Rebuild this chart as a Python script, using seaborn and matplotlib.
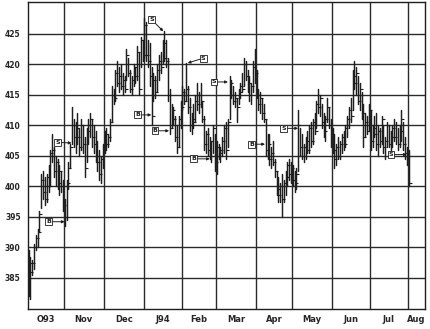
import numpy as np
import pandas as pd
import matplotlib
matplotlib.use("Agg")
import matplotlib.pyplot as plt
import seaborn as sns

# ---------------- data ----------------
month_labels = ["O93", "Nov", "Dec", "J94", "Feb", "Mar", "Apr", "May", "Jun", "Jul", "Aug"]
month_days = [20, 22, 22, 21, 19, 22, 20, 22, 21, 21, 9]
y_ticks = [385, 390, 395, 400, 405, 410, 415, 420, 425]

highs = [
    # Oct
    389.5, 388.5, 388.0, 390.5, 392.0, 393.0, 396.0, 402.0, 402.5, 401.5,
    402.0, 403.5, 406.0, 408.5, 406.5, 405.0, 404.5, 403.5, 402.5, 401.0,
    # Nov
    398.0, 401.0, 404.0, 407.0, 413.0, 411.0, 410.5, 412.0, 409.5, 411.0,
    410.0, 408.0, 409.5, 411.0, 412.0, 411.0, 410.0, 409.0, 407.5, 406.0,
    405.0, 407.0,
    # Dec
    409.0, 409.5, 408.5, 411.0, 416.5, 416.0, 419.0, 420.5, 419.5, 420.0,
    418.5, 418.0, 422.5, 421.0, 419.0, 418.0, 420.0, 419.5, 423.0, 422.0,
    424.5, 424.0,
    # Jan
    427.5, 427.0, 424.0, 423.5, 419.5, 418.5, 418.0, 420.0, 421.5, 422.0,
    424.0, 425.5, 424.0, 421.0, 416.0, 413.5, 413.0, 411.5, 410.0, 411.5,
    414.0,
    # Feb
    416.5, 416.0, 420.2, 416.5, 414.5, 412.0, 413.5, 415.0, 417.0, 415.5,
    417.0, 414.0, 411.5, 409.0, 409.5, 408.0, 407.5, 410.0, 408.5,
    # Mar
    407.5, 407.0, 406.5, 408.0, 410.0, 410.5, 411.0, 418.0, 417.5, 416.5,
    415.5, 414.5, 416.0, 417.0, 418.5, 421.0, 420.5, 419.0, 418.0, 417.0,
    420.5, 422.5,
    # Apr
    419.0, 416.0, 415.5, 414.5, 413.5, 411.0, 408.5, 408.5, 406.5, 407.5,
    404.5, 402.5, 401.5, 400.5, 402.0, 401.0, 402.5, 404.0, 404.5, 404.0,
    # May
    403.5, 402.5, 403.0, 412.5, 409.5, 408.5, 407.0, 408.0, 409.0, 410.0,
    410.5, 411.0, 412.0, 414.0, 416.0, 415.0, 413.5, 412.0, 411.5, 414.5,
    413.0, 411.0,
    # Jun
    409.5, 408.5, 407.0, 408.0, 407.5, 408.5, 409.0, 410.0, 411.5, 413.0,
    414.5, 419.0, 420.5, 419.5, 418.0, 417.0, 415.5, 413.5, 412.0, 411.5,
    413.5,
    # Jul
    412.5, 410.0, 411.5, 412.0, 410.0, 409.5, 411.5, 410.0, 408.0, 410.5,
    410.0, 409.0, 410.0, 411.0, 410.5, 409.5, 410.0, 412.5, 410.5, 408.0,
    406.5,
    # Aug
    406.0,
]

lows = [
    # Oct
    382.0, 381.5, 385.5, 386.5, 389.5, 390.0, 392.5, 396.5, 398.0, 397.0,
    397.5, 399.0, 400.0, 404.0, 401.5, 400.0, 399.5, 398.5, 399.0, 396.0,
    # Nov
    393.5, 394.5, 399.5, 403.0, 407.0, 406.5, 405.5, 407.0, 405.0, 406.0,
    405.5, 401.5, 404.0, 407.0, 408.0, 406.5, 405.5, 404.0, 402.5, 401.0,
    400.5, 403.0,
    # Dec
    405.5, 406.0, 406.5, 407.5, 410.5, 413.5, 414.0, 416.5, 415.5, 416.0,
    415.0, 415.5, 417.5, 418.0, 415.5, 415.0, 416.5, 417.0, 417.5, 415.0,
    419.5, 420.5,
    # Jan
    421.0, 420.5, 419.5, 416.5, 410.0, 414.0, 414.5, 415.5, 417.5, 418.5,
    420.0, 420.5, 419.5, 414.0, 408.5, 409.5, 410.0, 407.5, 405.5, 406.5,
    409.5,
    # Feb
    412.5, 413.5, 414.0, 412.0, 409.0, 408.5, 409.5, 410.5, 412.5, 412.0,
    413.0, 410.5, 406.0, 405.5, 405.0, 404.5, 404.0, 405.5, 402.5,
    # Mar
    402.0, 404.5, 404.0, 405.0, 405.5, 404.5, 406.5, 411.0, 414.5, 413.5,
    413.0, 410.5, 413.5, 414.5, 415.5, 416.5, 417.5, 415.5, 414.0, 413.5,
    415.5, 417.0,
    # Apr
    414.5, 412.5, 412.0, 411.0, 410.5, 405.0, 404.5, 403.5, 403.0, 403.5,
    401.5, 398.5, 397.5, 397.5, 395.0, 397.5, 398.5, 400.0, 401.0, 400.5,
    # May
    400.0, 399.0, 399.5, 402.5, 405.0, 404.5, 404.0, 404.5, 405.5, 405.5,
    406.5, 407.0, 408.5, 409.5, 412.0, 411.5, 409.5, 408.0, 407.5, 410.5,
    409.5, 406.5,
    # Jun
    405.5, 403.0, 403.5, 404.5, 404.5, 405.5, 406.0, 406.5, 408.0, 409.5,
    410.5, 412.5, 416.0, 415.0, 413.5, 412.5, 411.0, 406.5, 408.0, 408.5,
    409.0,
    # Jul
    406.0, 406.5, 408.0, 406.0, 405.0, 406.5, 407.0, 405.5, 404.5, 406.5,
    406.5, 405.0, 406.5, 407.5, 407.0, 406.0, 406.5, 407.5, 406.0, 404.5,
    403.5,
    # Aug
    400.0,
]

closes = [
    # Oct
    387.5, 386.0, 387.5, 390.0, 391.5, 392.5, 395.5, 401.0, 399.0, 398.0,
    401.5, 400.0, 405.5, 406.0, 402.5, 404.0, 400.5, 402.5, 400.0, 397.0,
    # Nov
    395.0, 400.5, 403.0, 406.5, 410.0, 408.0, 409.5, 408.0, 406.5, 410.0,
    407.0, 403.0, 409.0, 410.0, 411.0, 408.0, 407.0, 405.0, 404.0, 402.0,
    404.5, 406.5,
    # Dec
    408.5, 407.0, 408.0, 410.5, 415.0, 414.5, 418.5, 417.0, 418.0, 416.5,
    417.5, 416.0, 421.5, 418.5, 416.0, 417.5, 419.5, 418.0, 422.0, 416.0,
    424.0, 421.5,
    # Jan
    426.5, 421.5, 420.5, 418.0, 411.5, 417.5, 415.5, 419.0, 420.5, 419.5,
    423.5, 421.0, 420.5, 415.0, 409.5, 412.5, 411.0, 408.0, 406.5, 411.0,
    413.0,
    # Feb
    415.5, 414.0, 416.0, 413.0, 410.0, 411.0, 410.5, 414.0, 413.5, 415.0,
    414.0, 411.0, 407.0, 408.5, 406.0, 407.5, 405.0, 409.5, 404.0,
    # Mar
    406.5, 405.5, 406.0, 407.5, 409.5, 406.0, 410.5, 417.0, 415.0, 414.0,
    414.5, 413.0, 415.5, 416.5, 416.0, 420.0, 418.0, 417.0, 415.0, 416.5,
    419.5, 418.5,
    # Apr
    415.0, 413.5, 414.5, 412.0, 411.0, 406.0, 407.0, 404.5, 405.5, 404.0,
    402.5, 399.5, 398.5, 400.0, 398.0, 400.5, 401.5, 403.5, 402.0, 403.0,
    # May
    401.0, 400.5, 402.0, 410.0, 406.5, 405.0, 406.5, 407.5, 406.0, 409.5,
    407.5, 410.5, 409.0, 413.5, 413.0, 414.5, 410.5, 409.0, 411.0, 413.0,
    410.0, 407.5,
    # Jun
    406.0, 404.5, 406.5, 405.0, 407.0, 408.0, 407.0, 409.5, 411.0, 412.5,
    411.5, 418.0, 417.0, 418.5, 414.0, 416.0, 412.0, 408.0, 410.5, 409.0,
    412.5,
    # Jul
    407.5, 409.5, 408.5, 407.0, 409.0, 407.5, 411.0, 406.5, 407.5, 410.0,
    407.0, 408.0, 409.5, 408.0, 410.0, 407.0, 409.0, 411.0, 407.0, 405.5,
    405.0,
    # Aug
    400.5,
]

# buy / sell signal annotations (bar-index, price)
ann_labels = ["B", "S", "S", "B", "B", "S", "B", "S", "B", "S", "S"]
ann_text_x = [11.4, 16.6, 68.5, 60.8, 70.3, 97.0, 91.5, 102.8, 123.8, 141.4, 200.6]
ann_text_y = [394.2, 407.2, 427.3, 411.7, 409.1, 421.0, 404.5, 417.1, 406.9, 409.5, 405.2]
ann_tip_x = [20.4, 24.2, 74.9, 68.3, 78.1, 88.4, 100.6, 110.6, 131.1, 149.4, 209.4]
ann_tip_y = [394.2, 407.1, 425.4, 411.7, 409.1, 420.2, 404.5, 417.1, 406.9, 409.5, 405.2]

# ---------------- figure ----------------
sns.set_style("white")
plt.rcParams['font.family'] = ['DejaVu Sans']

fig = plt.figure(figsize=(4.30, 3.29), dpi=100)
ax = fig.add_axes([27.7 / 430, 20 / 329, (425 - 27.7) / 430, 307 / 329])

n = len(highs)
xpos = np.arange(n) + 0.5
df = pd.DataFrame({
    "bar": np.repeat(np.arange(n), 2),
    "x": np.repeat(xpos, 2),
    "price": np.ravel(np.column_stack([lows, highs])),
})

ink = "#1e1e1e"
sns.lineplot(data=df, x="x", y="price", units="bar", estimator=None,
             sort=False, color=ink, lw=1.05, ax=ax, legend=False)
ax.plot(xpos, closes, linestyle="none", marker=1, ms=1.8, mew=0.8, color=ink)

month_starts = np.concatenate([[0], np.cumsum(month_days)[:-1]])
month_centers = month_starts + np.array(month_days) / 2.0

# grid
for yv in y_ticks:
    ax.axhline(yv, color="#2a2a2a", lw=1.0, zorder=0)
for xv in month_starts[1:]:
    ax.axvline(xv, color="#2a2a2a", lw=1.0, zorder=0)

ax.set_xlim(0, 219.5)
ax.set_ylim(379.9, 430.2)

ax.set_yticks(y_ticks)
ax.set_yticklabels([str(v) for v in y_ticks], fontsize=5.5, fontweight="bold")
ax.tick_params(axis="y", length=0, pad=5)

ax.set_xticks(month_centers)
ax.set_xticklabels(month_labels, fontsize=6, fontweight="bold")
ax.tick_params(axis="x", which="major", length=0, pad=4)
ax.set_xticks(np.arange(0, 219, 5), minor=True)
ax.tick_params(axis="x", which="minor", direction="in", length=2.5, width=0.6, color=ink)

ax.set_xlabel("")
ax.set_ylabel("")
for sp in ax.spines.values():
    sp.set_visible(True)
    sp.set_color(ink)
    sp.set_linewidth(1.0)

for lab, tx, ty, px, py in zip(ann_labels, ann_text_x, ann_text_y, ann_tip_x, ann_tip_y):
    ax.annotate(lab, xy=(px, py), xytext=(tx, ty), fontsize=4.5, fontweight="bold",
                ha="center", va="center", color=ink,
                bbox=dict(boxstyle="square,pad=0.15", fc="white", ec=ink, lw=0.6),
                arrowprops=dict(arrowstyle="-|>", lw=0.7, color=ink,
                                mutation_scale=4, shrinkA=0, shrinkB=0))

fig.savefig("out.png", dpi=100)
